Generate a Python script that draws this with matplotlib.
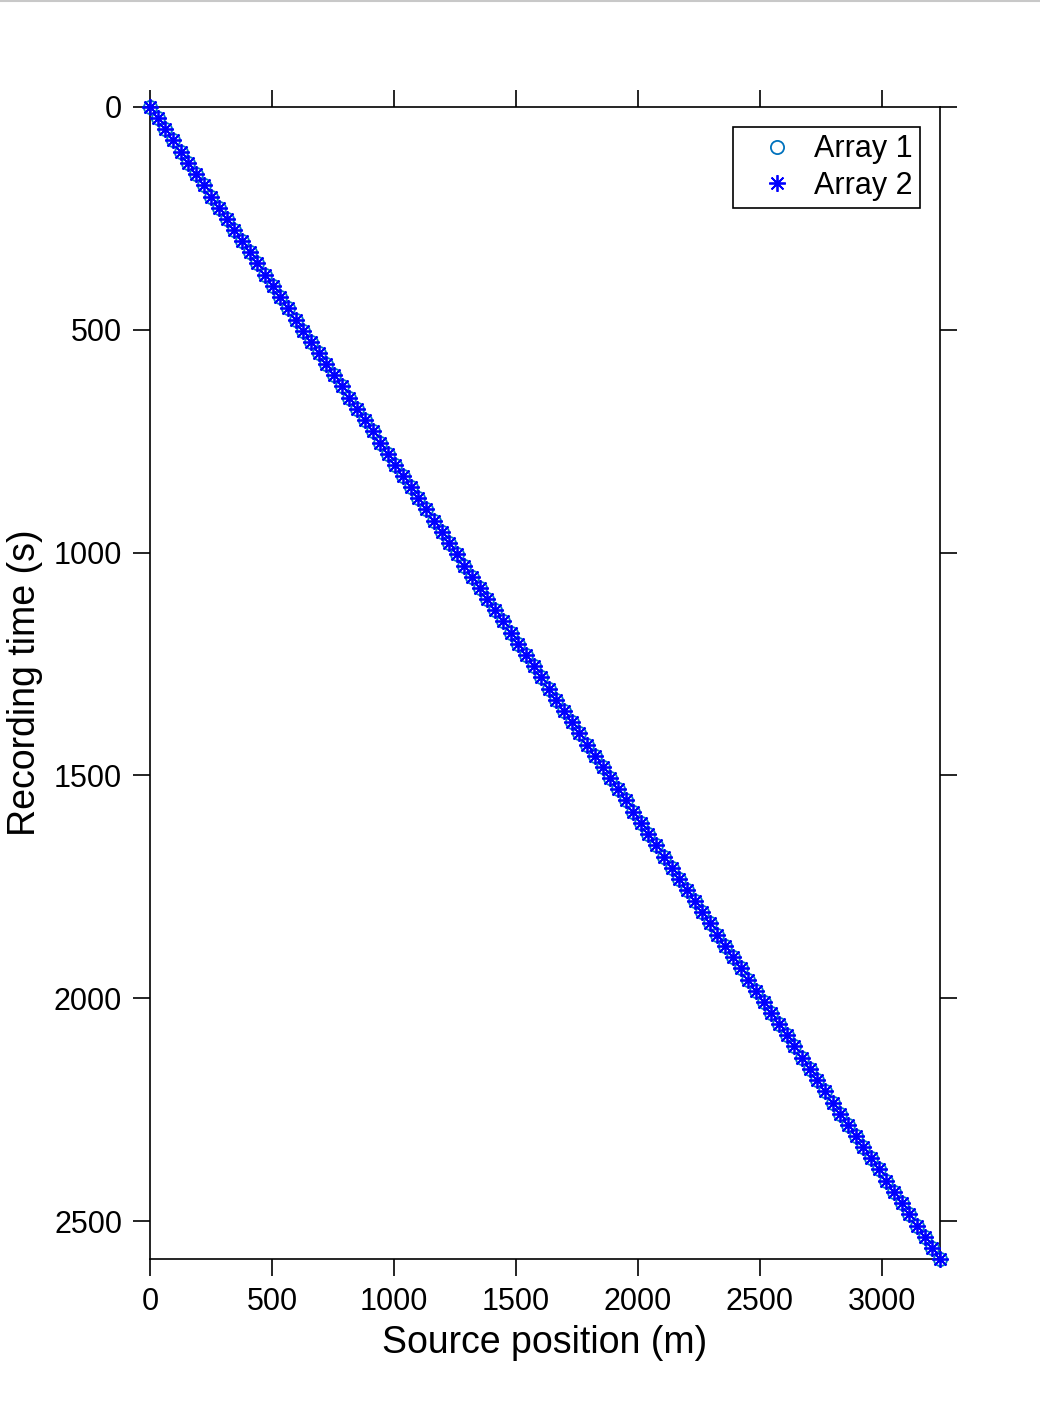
import matplotlib
matplotlib.use("Agg")
import matplotlib.pyplot as plt
from matplotlib.lines import Line2D

recording_time = [0, 25, 50, 75, 100, 125, 151, 176, 201, 226, 251, 276, 301, 326, 351, 376,
                  402, 427, 452, 477, 502, 527, 552, 577, 602, 627, 653, 678, 703, 728, 753, 778,
                  803, 828, 853, 878, 903, 929, 954, 979, 1004, 1029, 1054, 1079, 1104, 1129, 1154,
                  1180, 1205, 1230, 1255, 1280, 1305, 1330, 1355, 1380, 1405, 1431, 1456, 1481, 1506,
                  1531, 1556, 1581, 1606, 1631, 1656, 1682, 1707, 1732, 1757, 1782, 1807, 1832, 1857,
                  1882, 1907, 1933, 1958, 1983, 2008, 2033, 2058, 2083, 2108, 2133, 2158, 2184, 2209,
                  2234, 2259, 2284, 2309, 2334, 2359, 2384, 2409, 2435, 2460, 2485, 2510, 2535, 2560, 2585]

source_position = [0, 31, 63, 94, 126, 157, 189, 220, 251, 283, 314, 346, 377, 409, 440, 472,
                   503, 534, 566, 597, 629, 660, 692, 723, 754, 786, 817, 849, 880, 912, 943, 975,
                   1006, 1037, 1069, 1100, 1132, 1163, 1195, 1226, 1257, 1289, 1320, 1352, 1383, 1415,
                   1446, 1478, 1509, 1540, 1572, 1603, 1635, 1666, 1698, 1729, 1760, 1792, 1823, 1855,
                   1886, 1918, 1949, 1981, 2012, 2043, 2075, 2106, 2138, 2169, 2201, 2232, 2263, 2295,
                   2326, 2358, 2389, 2421, 2452, 2484, 2515, 2546, 2578, 2609, 2641, 2672, 2704, 2735,
                   2766, 2798, 2829, 2861, 2892, 2924, 2955, 2986, 3018, 3049, 3081, 3112, 3144, 3175,
                   3207, 3238]

n = min(len(recording_time), len(source_position))
recording_time = recording_time[:n]
source_position = source_position[:n]

x_ticks = [0, 500, 1000, 1500, 2000, 2500, 3000]
y_ticks = [0, 500, 1000, 1500, 2000, 2500]
series_names = ["Array 1", "Array 2"]

plt.rcParams['font.family'] = ['Liberation Sans', 'DejaVu Sans']

fig = plt.figure(figsize=(10.4, 14.17), dpi=100)
ax = fig.add_axes([150/1040, 1 - 1259/1417, 790/1040, (1259 - 107)/1417])

ax.plot(source_position, recording_time, linestyle='none', marker='o',
        markersize=9.5, markerfacecolor='none', markeredgecolor='#0072BD',
        markeredgewidth=1.3, label=series_names[0], clip_on=False, zorder=3)
ax.plot(source_position, recording_time, linestyle='none', marker=(8, 2, 0),
        markersize=12, markeredgecolor='#0000FF', markerfacecolor='#0000FF',
        markeredgewidth=1.3, label=series_names[1], clip_on=False, zorder=4)

ax.set_xlim(0, source_position[-1])
ax.set_ylim(recording_time[-1], 0)
ax.set_xticks(x_ticks)
ax.set_yticks(y_ticks)

ax.tick_params(axis='both', which='both', direction='out', length=12, width=1.2,
               labelsize=22, top=True, right=True, labeltop=False, labelright=False,
               pad=8)
for sp in ax.spines.values():
    sp.set_linewidth(1.2)

ax.set_xlabel("Source position (m)", fontsize=27, labelpad=6)
ax.set_ylabel("Recording time (s)", fontsize=27, labelpad=8)

leg = ax.legend(loc='upper right', fontsize=22, frameon=True, fancybox=False,
                edgecolor='black', framealpha=1, borderaxespad=0.65,
                handlelength=2.4, handletextpad=0.0, borderpad=0.25, labelspacing=0.2)
leg.get_frame().set_linewidth(1.2)
leg.set_zorder(10)

fig.add_artist(Line2D([0, 1], [1 - 1/1417, 1 - 1/1417], transform=fig.transFigure,
                      color='#c8c8c8', linewidth=1.5))

fig.savefig("out.png", dpi=100)
